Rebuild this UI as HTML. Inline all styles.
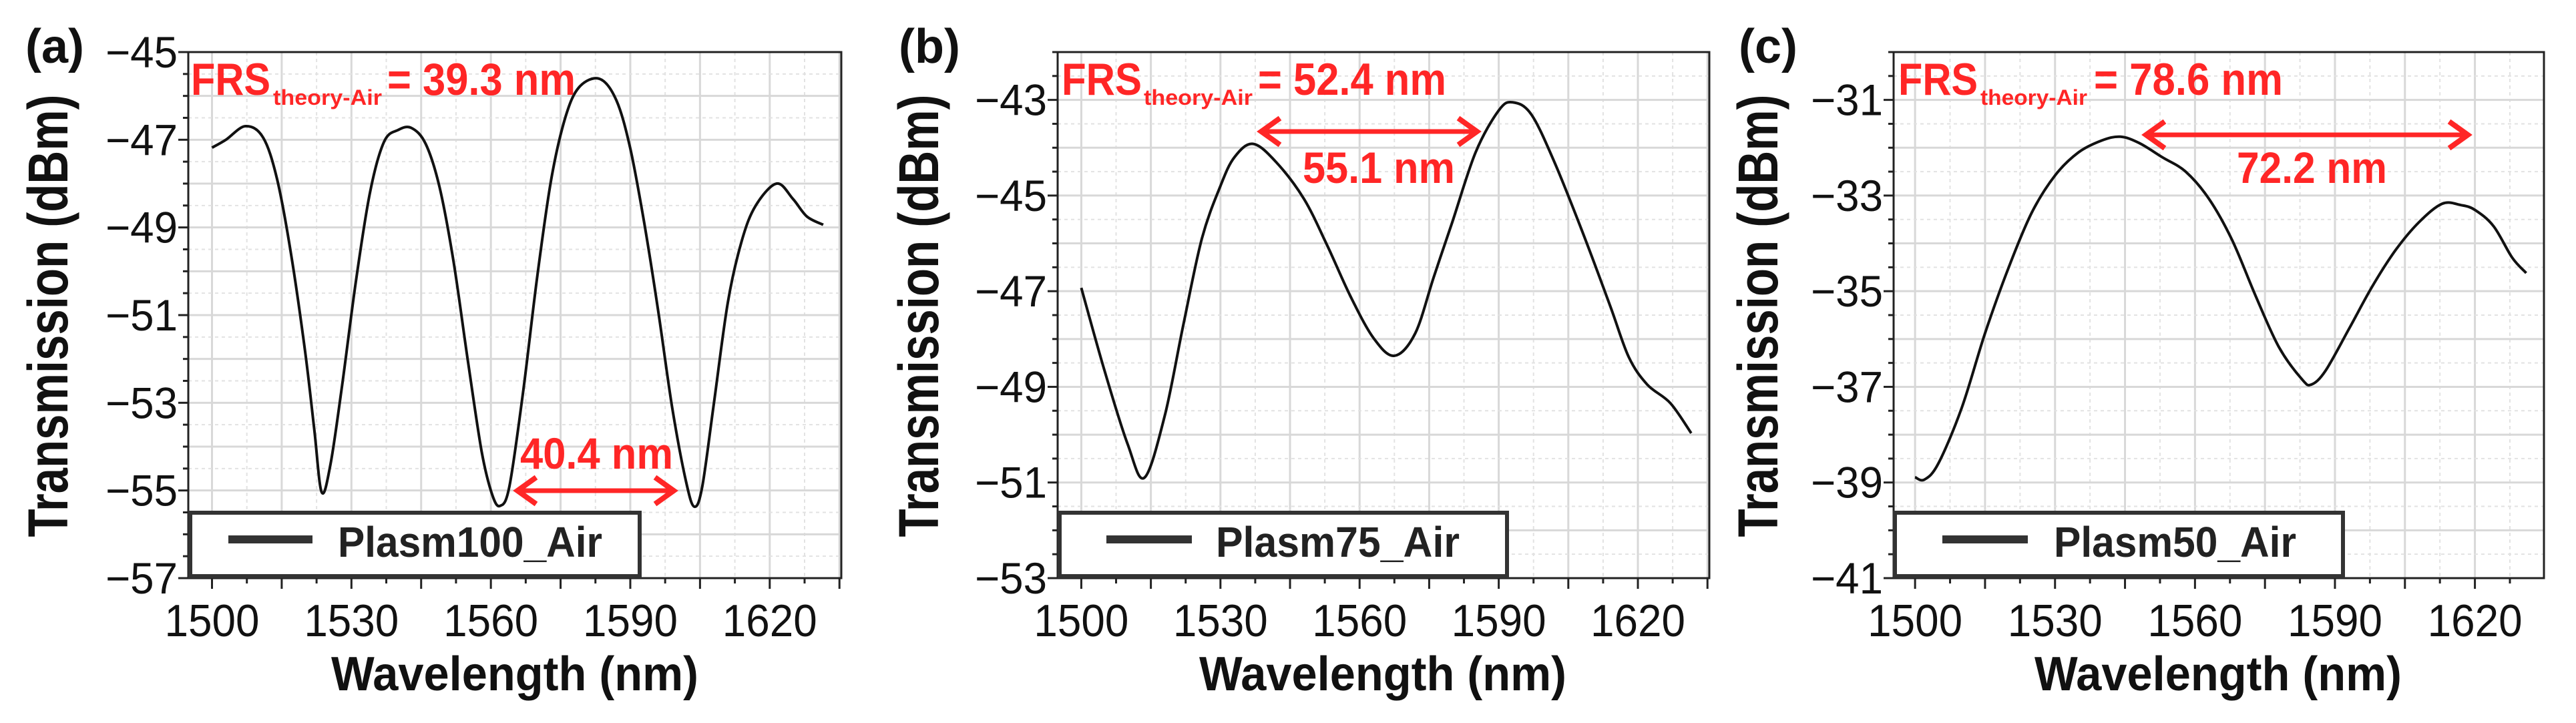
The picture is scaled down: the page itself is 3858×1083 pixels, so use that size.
<!DOCTYPE html>
<html><head><meta charset="utf-8"><style>
html,body{margin:0;padding:0;background:#fff}
svg{display:block}
text{font-family:"Liberation Sans",Arial,sans-serif}
</style></head><body>
<svg id="fig" width="3858" height="1083" viewBox="0 0 3858 1083" xmlns="http://www.w3.org/2000/svg"></svg>
<script>
// ---- data ----
const xA = [1500,1503,1507.2,1511,1514,1517,1520,1522,1523.6,1525.5,1528,1531,1534,1537,1540,1542.9,1546,1549,1552,1555,1558,1560.3,1562,1564,1567,1570,1573,1576,1579,1583.4,1587,1590,1593,1596,1599,1602,1603.8,1605.5,1608,1611,1614,1617,1621.5,1625,1628,1631.5];
const yA = [-47.18,-47.0,-46.69,-46.95,-47.9,-49.6,-51.8,-53.6,-55.04,-54.4,-52.6,-50.2,-48.2,-47.05,-46.78,-46.73,-47.1,-48.1,-49.8,-52.0,-54.1,-55.1,-55.35,-54.9,-52.7,-50.1,-47.9,-46.5,-45.8,-45.61,-46.1,-47.2,-48.9,-50.9,-53.1,-54.8,-55.37,-54.9,-53.0,-50.7,-49.3,-48.5,-48.0,-48.35,-48.75,-48.94];
const xB = [1500,1505,1510,1513.6,1518,1522,1526,1530,1533,1537,1542,1548,1553,1558,1563,1567.5,1572,1576,1580,1585,1590,1593,1597,1602,1608,1614,1618,1622,1627,1631.5];
const yB = [-46.93,-48.66,-50.2,-50.9,-49.6,-47.7,-45.9,-44.8,-44.2,-43.92,-44.3,-45.07,-46.04,-47.1,-47.98,-48.35,-47.88,-46.7,-45.55,-44.1,-43.22,-43.05,-43.3,-44.3,-45.75,-47.3,-48.37,-48.95,-49.34,-49.97];
const xC = [1500,1502,1505,1510,1515,1520,1525,1530,1535,1540,1544,1548,1553,1558,1563,1568,1573,1578,1583,1585,1588,1593,1598,1603,1608,1613,1617,1620,1624,1628,1631];
const yC = [-38.89,-38.94,-38.6,-37.44,-35.88,-34.52,-33.36,-32.58,-32.1,-31.85,-31.77,-31.9,-32.2,-32.5,-33.07,-33.94,-35.1,-36.17,-36.85,-36.95,-36.66,-35.79,-34.9,-34.14,-33.56,-33.17,-33.2,-33.3,-33.64,-34.3,-34.62];
const xTicks = [1500,1530,1560,1590,1620];
const yTicksA = [-45,-47,-49,-51,-53,-55,-57];
const yTicksB = [-43,-45,-47,-49,-51,-53];
const yTicksC = [-31,-33,-35,-37,-39,-41];
const legendNames = ["Plasm100_Air","Plasm75_Air","Plasm50_Air"];
const frsValues = ["39.3","52.4","78.6"];
const fsrMeasured = ["40.4","55.1","72.2"];

const NS="http://www.w3.org/2000/svg";
const svg=document.getElementById('fig');
function mk(tag,attrs,parent){const e=document.createElementNS(NS,tag);for(const k in attrs)e.setAttribute(k,attrs[k]);(parent||svg).appendChild(e);return e;}
function path(xs,ys,fx,fy){
  const P=xs.map((x,i)=>[fx(x),fy(ys[i])]);
  let d=`M${P[0][0].toFixed(1)},${P[0][1].toFixed(1)}`;
  for(let i=0;i<P.length-1;i++){
    const p0=P[Math.max(0,i-1)],p1=P[i],p2=P[i+1],p3=P[Math.min(P.length-1,i+2)];
    const c1=[p1[0]+(p2[0]-p0[0])/6,p1[1]+(p2[1]-p0[1])/6];
    const c2=[p2[0]-(p3[0]-p1[0])/6,p2[1]-(p3[1]-p1[1])/6];
    d+=`C${c1[0].toFixed(1)},${c1[1].toFixed(1)} ${c2[0].toFixed(1)},${c2[1].toFixed(1)} ${p2[0].toFixed(1)},${p2[1].toFixed(1)}`;
  }
  return d;
}
const RED="#ff2626";
const panels=[
 {L:282,R:1260,x0:1494.9,x1:1635.4,y0:-57,y1:-45,xs:xA,ys:yA,yt:yTicksA,lab:"(a)",labX:38,ytX:71,xtX:771,
  leg:[285,958,342,468,506,396],frs:[286,405,409,572,580,862],arr:[771,1013,735],m:[779,1008,702]},
 {L:1584,R:2560,x0:1494.9,x1:1635.4,y0:-53,y1:-42,xs:xB,ys:yB,yt:yTicksB,lab:"(b)",labX:1346,ytX:1375,xtX:2071,
  leg:[1587,2257,1657,1785,1821,365],frs:[1590,1710,1713,1876,1884,2166],arr:[1885,2216,197],m:[1951,2179,274]},
 {L:2836,R:3810,x0:1495.4,x1:1634.8,y0:-41,y1:-30,xs:xC,ys:yC,yt:yTicksC,lab:"(c)",labX:2604,ytX:2632,xtX:3322,
  leg:[2838,3509,2909,3037,3076,363],frs:[2843,2962,2966,3126,3136,3419],arr:[3210,3700,202],m:[3350,3575,274]}
];
const T=78,B=866;
panels.forEach((p,pi)=>{
  const g=mk('g',{});
  
  
  const fx=x=>p.L+(x-p.x0)/(p.x1-p.x0)*(p.R-p.L);
  const fy=y=>B-(y-p.y0)/(p.y1-p.y0)*(B-T);
  const grid=mk('g',{},g);
  
  
  for(let x=1500;x<=p.x1;x+=7.5){
    const major=(x-1500)%15===0;
    mk('line',{x1:fx(x),x2:fx(x),y1:T,y2:B,stroke:major?'#d8d8d8':'#e2e2e2','stroke-width':major?3:2,'stroke-dasharray':major?'none':'5,5'},grid);
  }
  for(let y=Math.ceil(p.y0*2)/2;y<=p.y1;y+=0.5){
    const major=Number.isInteger(y);
    mk('line',{x1:p.L,x2:p.R,y1:fy(y),y2:fy(y),stroke:major?'#d8d8d8':'#e2e2e2','stroke-width':major?3:2,'stroke-dasharray':major?'none':'5,5'},grid);
  }
  for(let x=1500;x<=p.x1;x+=7.5){const maj=(x-1500)%15===0;mk('line',{x1:fx(x),x2:fx(x),y1:B,y2:B+(maj?16:8),stroke:'#222','stroke-width':3},g);}
  for(let y=Math.ceil(p.y0*2)/2;y<=p.y1;y+=0.5){const maj=Number.isInteger(y)&&((y-p.yt[0])%2===0);mk('line',{x1:p.L,x2:p.L-(maj?15:8),y1:fy(y),y2:fy(y),stroke:'#222','stroke-width':3},g);}
  mk('rect',{x:p.L,y:T,width:p.R-p.L,height:B-T,fill:'none',stroke:'#222','stroke-width':3},g);
  xTicks.forEach(x=>{const t=mk('text',{x:fx(x),y:953,'text-anchor':'middle','font-size':68,textLength:142,lengthAdjust:'spacingAndGlyphs',fill:'#111'},g);t.textContent=x;
    });
  p.yt.forEach(y=>{const t=mk('text',{x:p.L-16,y:fy(y)+23,'text-anchor':'end','font-size':66,textLength:108,lengthAdjust:'spacingAndGlyphs',fill:'#111'},g);t.textContent='\u2212'+Math.abs(y);
    });
  const c=mk('path',{d:path(p.xs,p.ys,fx,fy),fill:'none',stroke:'#111','stroke-width':4},g);
  
  
  const xt=mk('text',{x:p.xtX,y:1034,'text-anchor':'middle','font-size':72,'font-weight':'bold',textLength:550,lengthAdjust:'spacingAndGlyphs',fill:'#111'},g);
  xt.textContent='Wavelength (nm)';
  
  const yt=mk('text',{x:0,y:0,'text-anchor':'middle','font-size':84,'font-weight':'bold',textLength:663,lengthAdjust:'spacingAndGlyphs',fill:'#111',transform:`translate(${p.ytX+30},473) rotate(-90)`},g);
  yt.textContent='Transmission (dBm)';
  
  const pl=mk('text',{x:p.labX,y:94,'font-size':72,'font-weight':'bold',fill:'#111'},g);
  pl.textContent=p.lab;
  
  const lg=mk('g',{},g);
  
  const l=p.leg;
  mk('rect',{x:l[0],y:768,width:l[1]-l[0],height:95,fill:'#fff',stroke:'#333','stroke-width':6},lg);
  mk('line',{x1:l[2],x2:l[3],y1:808,y2:808,stroke:'#333','stroke-width':12},lg);
  const lt=mk('text',{x:l[4],y:834,'font-size':64,'font-weight':'bold',textLength:l[5],lengthAdjust:'spacingAndGlyphs',fill:'#222'},lg);
  lt.textContent=legendNames[pi];
  
  const f=p.frs;
  const ag=mk('g',{fill:RED,'font-weight':'bold'},g);
  
  let t=mk('text',{x:f[0],y:142,'font-size':68,textLength:f[1]-f[0],lengthAdjust:'spacingAndGlyphs'},ag);t.textContent='FRS';
  t=mk('text',{x:f[2],y:157,'font-size':32,textLength:f[3]-f[2],lengthAdjust:'spacingAndGlyphs'},ag);t.textContent='theory-Air';
  t=mk('text',{x:f[4],y:142,'font-size':68,textLength:f[5]-f[4],lengthAdjust:'spacingAndGlyphs'},ag);t.textContent='= '+frsValues[pi]+' nm';
  const a=p.arr;
  const mg=mk('g',{},g);
  
  mk('line',{x1:a[0]+4,x2:a[1]-4,y1:a[2],y2:a[2],stroke:RED,'stroke-width':7},mg);
  mk('polyline',{points:`${a[0]+32},${a[2]-20} ${a[0]+4},${a[2]} ${a[0]+32},${a[2]+20}`,fill:'none',stroke:RED,'stroke-width':8},mg);
  mk('polyline',{points:`${a[1]-32},${a[2]-20} ${a[1]-4},${a[2]} ${a[1]-32},${a[2]+20}`,fill:'none',stroke:RED,'stroke-width':8},mg);
  const m=p.m;
  t=mk('text',{x:m[0],y:m[2],'font-size':66,'font-weight':'bold',fill:RED,textLength:m[1]-m[0],lengthAdjust:'spacingAndGlyphs'},mg);
  t.textContent=fsrMeasured[pi]+' nm';
  
});
</script>
</body></html>
